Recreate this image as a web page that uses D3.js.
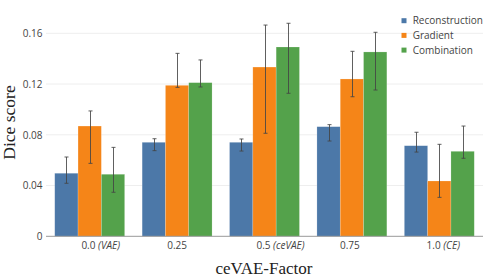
<!DOCTYPE html>
<html><head><meta charset="utf-8">
<script src="https://cdn.jsdelivr.net/npm/d3@7"></script>
<style>body{margin:0;background:#fff}svg{display:block}</style>
</head><body>
<script>
const catMain = ["0.0", "0.25", "0.5", "0.75", "1.0"];
const catNote = ["VAE", "", "ceVAE", "", "CE"];
const seriesNames = ["Reconstruction", "Gradient", "Combination"];
const reconstruction = [0.0497, 0.0741, 0.0741, 0.0864, 0.0714];
const recLow  = [0.0418, 0.0675, 0.0672, 0.0751, 0.0664];
const recHigh = [0.0625, 0.0769, 0.0767, 0.0880, 0.0820];
const gradient = [0.0869, 0.1190, 0.1334, 0.1240, 0.0436];
const gradLow  = [0.0575, 0.1174, 0.0812, 0.1100, 0.0307];
const gradHigh = [0.0988, 0.1442, 0.1665, 0.1458, 0.0725];
const combination = [0.0489, 0.1211, 0.1492, 0.1453, 0.0670];
const combLow  = [0.0347, 0.1177, 0.1127, 0.1153, 0.0615];
const combHigh = [0.0701, 0.1390, 0.1679, 0.1608, 0.0869];
const yTicks = [0, 0.04, 0.08, 0.12, 0.16];
const yTickLabels = ["0", "0.04", "0.08", "0.12", "0.16"];
const colors = ["#4c78a8", "#f58518", "#54a24b"];

const W = 500, H = 280;
const svg = d3.select("body").append("svg").attr("width", W).attr("height", H);
const plot = {left: 46, right: 483, bottom: 236.3, top: 33.3};

const x = d3.scaleBand().domain(d3.range(catMain.length)).range([plot.left, plot.right]).paddingInner(0.2).paddingOuter(0.1);
const xs = d3.scaleBand().domain(d3.range(seriesNames.length)).range([0, x.bandwidth()]).padding(0);
const y = d3.scaleLinear().domain([0, 0.16]).range([plot.bottom, plot.top]);

// grid
svg.append("g").selectAll("line").data(yTicks.slice(1)).join("line")
  .attr("x1", plot.left).attr("x2", plot.right)
  .attr("y1", d => y(d)).attr("y2", d => y(d))
  .attr("stroke", "#eeeeee").attr("stroke-width", 1);

// y tick labels via axis
const yAxis = d3.axisLeft(y).tickValues(yTicks).tickFormat((d, i) => yTickLabels[i]).tickSize(0).tickPadding(3.5);
const ya = svg.append("g").attr("transform", `translate(${plot.left},0)`).call(yAxis);
ya.select(".domain").remove();
ya.selectAll("text").attr("font-family", "'Open Sans', sans-serif").attr("font-size", 10).attr("fill", "#444");

const series = [
  {vals: reconstruction, lo: recLow, hi: recHigh},
  {vals: gradient, lo: gradLow, hi: gradHigh},
  {vals: combination, lo: combLow, hi: combHigh}
];

series.forEach((s, si) => {
  const g = svg.append("g");
  g.selectAll("rect").data(s.vals).join("rect")
    .attr("x", (d, i) => x(i) + xs(si))
    .attr("width", xs.bandwidth())
    .attr("y", d => y(d))
    .attr("height", d => y(0) - y(d))
    .attr("fill", colors[si])
    .attr("stroke", "rgba(255,255,255,0.3)").attr("stroke-width", 0.6);
});

series.forEach((s, si) => {
  const g = svg.append("g").attr("stroke", "#444").attr("stroke-opacity", 0.85).attr("stroke-width", 1);
  s.vals.forEach((d, i) => {
    const cx = Math.round(x(i) + xs(si) + xs.bandwidth() / 2) + 0.5;
    g.append("line").attr("x1", cx).attr("x2", cx).attr("y1", y(s.lo[i])).attr("y2", y(s.hi[i]));
    g.append("line").attr("x1", cx - 2).attr("x2", cx + 2).attr("y1", y(s.lo[i])).attr("y2", y(s.lo[i]));
    g.append("line").attr("x1", cx - 2).attr("x2", cx + 2).attr("y1", y(s.hi[i])).attr("y2", y(s.hi[i]));
  });
});

// zero line
svg.append("line").attr("x1", plot.left).attr("x2", plot.right)
  .attr("y1", y(0)).attr("y2", y(0)).attr("stroke", "#999").attr("stroke-width", 1);

// x tick labels
const labelNudge = [11, 0, 16, -2, 4];
const xt = svg.append("g").selectAll("text").data(catMain).join("text")
  .attr("x", (d, i) => x(i) + x.bandwidth() / 2 + labelNudge[i])
  .attr("y", 249)
  .attr("text-anchor", "middle")
  .attr("font-family", "'Open Sans', sans-serif").attr("font-size", 10).attr("fill", "#444");
xt.append("tspan").text((d, i) => catNote[i] ? d + " " : d);
xt.filter((d, i) => catNote[i]).append("tspan").attr("font-style", "italic").text((d, i) => "(" + catNote[catMain.indexOf(d)] + ")");

// axis titles
svg.append("text").attr("x", 264).attr("y", 274).attr("text-anchor", "middle")
  .attr("font-family", "'Liberation Serif', serif").attr("font-size", 17).attr("fill", "#222")
  .text("ceVAE-Factor");
svg.append("text").attr("transform", "translate(15,122.5) rotate(-90)").attr("text-anchor", "middle")
  .attr("font-family", "'Liberation Serif', serif").attr("font-size", 17.5).attr("fill", "#222")
  .text("Dice score");

// legend
const lg = svg.append("g").selectAll("g").data(seriesNames).join("g")
  .attr("transform", (d, i) => `translate(401.5,${20.7 + i * 14.7})`);
lg.append("rect").attr("x", 0).attr("y", -2.5).attr("width", 5).attr("height", 5).attr("fill", (d, i) => colors[i]);
lg.append("text").attr("x", 11.2).attr("y", 3.6)
  .attr("font-family", "'Open Sans', sans-serif").attr("font-size", 10).attr("fill", "#444").text(d => d);
</script>
</body></html>
